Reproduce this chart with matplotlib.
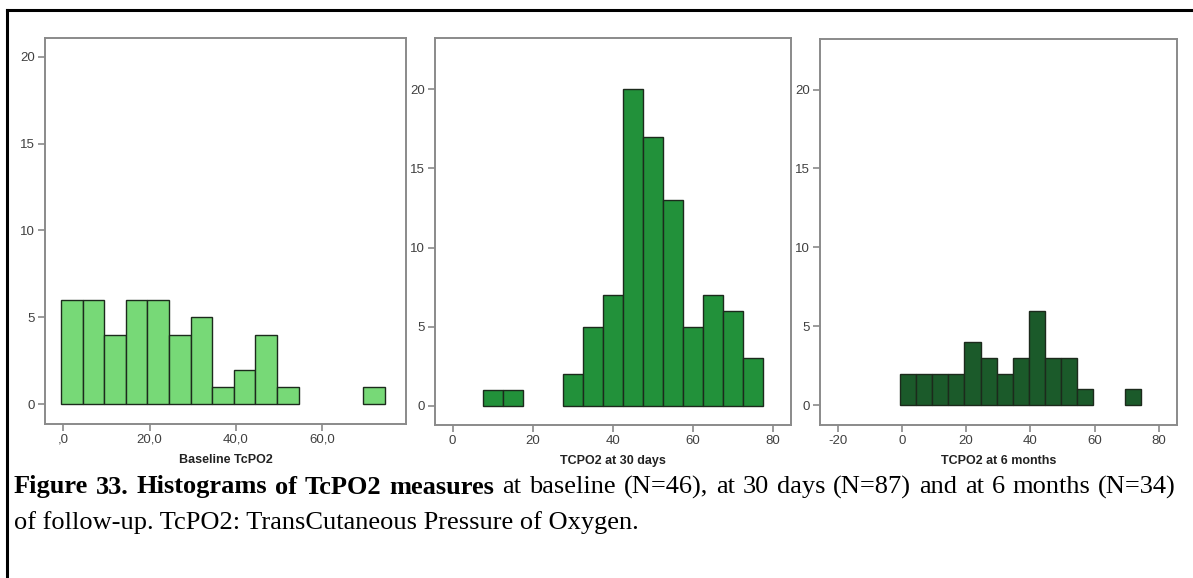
import matplotlib
matplotlib.use("Agg")
import matplotlib.pyplot as plt
from matplotlib.lines import Line2D
import numpy as np

# Histogram counts (bin width 5)
baseline_start = -0.5
baseline_counts = [6, 6, 4, 6, 6, 4, 5, 1, 2, 4, 1, 0, 0, 0, 1]

day30_start = 7.5
day30_counts = [1, 1, 0, 0, 2, 5, 7, 20, 17, 13, 5, 7, 6, 3]

month6_start = -0.5
month6_counts = [2, 2, 2, 2, 4, 3, 2, 3, 6, 3, 3, 1, 0, 0, 1]

bin_width = 5

xlabels = ["Baseline TcPO2", "TCPO2 at 30 days", "TCPO2 at 6 months"]
xticks_list = [[0, 20, 40, 60], [0, 20, 40, 60, 80], [-20, 0, 20, 40, 60, 80]]
xticklabels_list = [[",0", "20,0", "40,0", "60,0"],
                    ["0", "20", "40", "60", "80"],
                    ["-20", "0", "20", "40", "60", "80"]]
yticks = [0, 5, 10, 15, 20]

caption_bold = "Figure 33. Histograms of TcPO2 measures"
caption_rest = "at baseline (N=46), at 30 days (N=87) and at 6 months (N=34)"
caption_line2 = "of follow-up. TcPO2: TransCutaneous Pressure of Oxygen."

colors = ["#77d977", "#22913a", "#1b5a2a"]
xlims = [(-4.24, 79.4), (-4.4, 84.5), (-25.5, 85.6)]
ylims = [(-1.13, 21.07), (-1.22, 23.25), (-1.25, 23.2)]
W, H = 1193, 578
positions = [
    [45 / W, 1 - 424 / H, 361 / W, 386 / H],
    [435 / W, 1 - 425 / H, 355.7 / W, 387 / H],
    [820 / W, 1 - 425 / H, 356.7 / W, 386 / H],
]

fig = plt.figure(figsize=(W / 100, H / 100), dpi=100)
fig.patch.set_facecolor("white")

series = [(baseline_start, baseline_counts),
          (day30_start, day30_counts),
          (month6_start, month6_counts)]

spine_color = "#8a8a8a"
tick_text_color = "#404040"

for i, (start, counts) in enumerate(series):
    ax = fig.add_axes(positions[i])
    counts = np.asarray(counts)
    lefts = start + bin_width * np.arange(len(counts))
    keep = counts > 0
    ax.bar(lefts[keep], counts[keep], width=bin_width, align="edge",
           color=colors[i], edgecolor="#1c2a1c", linewidth=1.0)
    ax.set_xlim(*xlims[i])
    ax.set_ylim(*ylims[i])
    ax.set_xticks(xticks_list[i])
    ax.set_xticklabels(xticklabels_list[i])
    ax.set_yticks(yticks)
    for s in ax.spines.values():
        s.set_color(spine_color)
        s.set_linewidth(1.4)
    ax.tick_params(axis="both", direction="out", length=5, width=1.2,
                   color=spine_color, labelcolor=tick_text_color,
                   labelsize=9.5, pad=2)
    for lab in ax.get_xticklabels() + ax.get_yticklabels():
        lab.set_family("Liberation Sans")
    ax.set_xlabel(xlabels[i], fontsize=9, fontweight="bold",
                  family="Liberation Sans", color="#222222", labelpad=6)

# Outer frame (top and left edges)
fig.add_artist(Line2D([7 / W, 1.0], [1 - 10 / H, 1 - 10 / H],
                      color="black", linewidth=2.2, transform=fig.transFigure))
fig.add_artist(Line2D([7 / W, 7 / W], [1 - 10 / H, 0.0],
                      color="black", linewidth=2.2, transform=fig.transFigure))

# Caption: first line justified between the left and right margins
cap_size = 19
left_px, right_px = 14, 1176
cap_y1 = 1 - 487 / H
cap_y2 = 1 - 523 / H

tokens = [(w, "bold") for w in caption_bold.split()] + \
         [(w, "normal") for w in caption_rest.split()]
renderer = fig.canvas.get_renderer()
texts = []
for word, weight in tokens:
    t = fig.text(0, cap_y1, word, fontsize=cap_size, fontweight=weight,
                 family="Liberation Serif", va="center", ha="left")
    texts.append(t)
widths = [t.get_window_extent(renderer).width for t in texts]
gap = (right_px - left_px - sum(widths)) / (len(texts) - 1)
x = left_px
for t, w in zip(texts, widths):
    t.set_x(x / W)
    x += w + gap

fig.text(left_px / W, cap_y2, caption_line2, fontsize=cap_size,
         family="Liberation Serif", va="center", ha="left")

fig.savefig("out.png", dpi=100, facecolor="white")
